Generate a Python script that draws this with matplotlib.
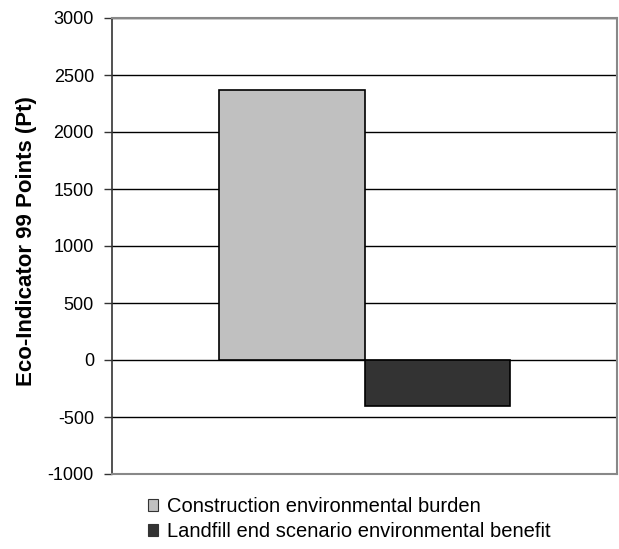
import matplotlib
matplotlib.use("Agg")
import matplotlib.pyplot as plt
from matplotlib.patches import Patch

plt.rcParams['font.family'] = ['Liberation Sans', 'DejaVu Sans']

series_labels = ["Construction environmental burden",
                 "Landfill end scenario environmental benefit"]
series_values = [2370, -400]
series_colors = ["#C0C0C0", "#333333"]
y_ticks = [-1000, -500, 0, 500, 1000, 1500, 2000, 2500, 3000]

fig = plt.figure(figsize=(6.19, 5.49), dpi=100)
ax = fig.add_axes([112 / 619, 1 - 474 / 549, 505 / 619, 456 / 549])

positions = [-0.5, 0.5]
ax.set_axisbelow(True)
for pos, val, col in zip(positions, series_values, series_colors):
    ax.bar(pos, val, width=1.0, color=col, edgecolor="black", linewidth=1.2, zorder=3)

half = 505 / 145 / 2
ax.set_xlim(-half, half)
ax.set_ylim(-1000, 3000)
ax.set_yticks(y_ticks)
ax.set_yticklabels([str(t) for t in y_ticks], fontsize=13)
ax.set_xticks([])
ax.yaxis.grid(True, color="black", linewidth=1.0)
ax.tick_params(axis="y", direction="out", length=6, width=1, color="#333333", pad=7)

for side in ("top", "right", "bottom"):
    ax.spines[side].set_color("#888888")
    ax.spines[side].set_linewidth(1.5)
ax.spines["left"].set_color("#333333")
ax.spines["left"].set_linewidth(1.2)

ax.set_ylabel("Eco-Indicator 99 Points (Pt)", fontsize=16, fontweight="bold")
ax.yaxis.set_label_coords(-0.148, 0.51)

handles = [Patch(facecolor=c, edgecolor="#333333", linewidth=0.8) for c in series_colors]
fig.legend(handles, series_labels, loc="upper left",
           bbox_to_anchor=(148 / 619, 1 - 497 / 549), frameon=False,
           fontsize=14.5, handlelength=0.5, handleheight=0.5,
           handletextpad=0.45, labelspacing=0.3, borderaxespad=0, borderpad=0)

fig.savefig("out.png", dpi=100)
